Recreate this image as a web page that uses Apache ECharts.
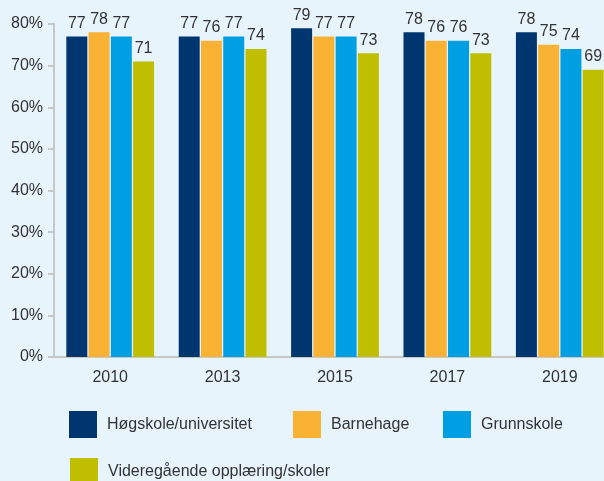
<!DOCTYPE html>
<html style="height: 100%">
<head>
<meta charset="utf-8">
</head>
<body style="height: 100%; margin: 0; background: #e8f4fc">
<div id="container" style="width:604px;height:481px"></div>
<script src="https://cdn.jsdelivr.net/npm/echarts@6/dist/echarts.min.js"></script>
<script type="text/javascript">
// data
var years = ['2010', '2013', '2015', '2017', '2019'];
var hogskole = [77, 77, 79, 78, 78];
var barnehage = [78, 76, 77, 76, 75];
var grunnskole = [77, 77, 77, 76, 74];
var videregaende = [71, 74, 73, 73, 69];
var seriesNames = ['Høgskole/universitet', 'Barnehage', 'Grunnskole', 'Videregående opplæring/skoler'];
var colors = ['#003670', '#f9b233', '#009fe3', '#bfbe00'];

var dom = document.getElementById('container');
var myChart = echarts.init(dom);
var font = 'Liberation Sans, Arial, sans-serif';

function bar(name, data, color) {
    return {
        name: name,
        type: 'bar',
        data: data,
        barWidth: 21,
        barGap: '6%',
        itemStyle: { color: color },
        label: {
            show: true,
            position: 'top',
            distance: 5,
            color: '#333',
            fontSize: 16,
            fontFamily: font
        }
    };
}

function legendItem(i, left, top) {
    return {
        data: [seriesNames[i]],
        left: left,
        top: top,
        icon: 'rect',
        itemWidth: 28,
        itemHeight: 27,
        itemGap: 0,
        selectedMode: false,
        textStyle: { color: '#333', fontSize: 16, fontFamily: font, padding: [0, 0, 0, 5] }
    };
}

var option = {
    backgroundColor: '#e8f4fc',
    animation: false,
    color: colors,
    grid: { left: 54, top: 24, bottom: 124, width: 562, containLabel: false, outerBoundsMode: 'none' },
    legend: [
        legendItem(0, 64, 406),
        legendItem(1, 288, 406),
        legendItem(2, 438, 406),
        legendItem(3, 65, 453)
    ],
    xAxis: {
        type: 'category',
        data: years,
        axisLine: { lineStyle: { color: '#c8c8c8', width: 2 } },
        axisTick: { inside: true, length: 9, lineStyle: { color: '#c8c8c8', width: 2 } },
        axisLabel: { color: '#333', fontSize: 16, fontFamily: font, margin: 13 }
    },
    yAxis: {
        type: 'value',
        min: 0,
        max: 80,
        interval: 10,
        axisLine: { show: true, lineStyle: { color: '#c8c8c8', width: 2 } },
        axisTick: { show: true, length: 6, lineStyle: { color: '#c8c8c8', width: 2 } },
        splitLine: { show: false },
        axisLabel: { formatter: '{value}%', color: '#333', fontSize: 16, fontFamily: font, margin: 11 }
    },
    series: [
        bar(seriesNames[0], hogskole, colors[0]),
        bar(seriesNames[1], barnehage, colors[1]),
        bar(seriesNames[2], grunnskole, colors[2]),
        bar(seriesNames[3], videregaende, colors[3])
    ]
};

myChart.setOption(option);
</script>
</body>
</html>
